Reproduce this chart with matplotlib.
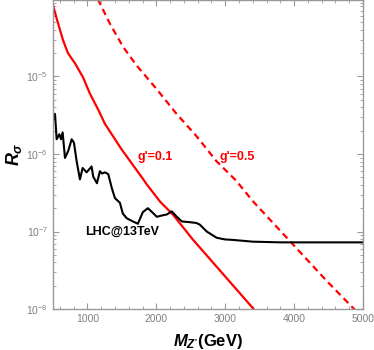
import numpy as np
import matplotlib.pyplot as plt
from matplotlib.ticker import MultipleLocator, LogLocator, NullFormatter

plt.rcParams['font.family'] = ['Liberation Sans', 'DejaVu Sans']
plt.rcParams['mathtext.fontset'] = 'custom'
plt.rcParams['mathtext.rm'] = 'Liberation Sans:bold'
plt.rcParams['mathtext.it'] = 'Liberation Sans:bold:italic'
plt.rcParams['mathtext.bf'] = 'Liberation Sans:bold'

# g' = 0.1 (solid)
m_g01 = [500, 558, 645, 717, 819, 935, 1036, 1152, 1254, 1495, 1804, 1857, 2051, 2239, 2529, 3413, 3500]
r_g01 = [8.3e-5, 5.4e-5, 2.95e-5, 2.0e-5, 1.48e-5, 9.8e-6, 6.0e-6, 3.8e-6, 2.45e-6, 1.15e-6,
         4.8e-7, 4.1e-7, 2.45e-7, 1.66e-7, 7.9e-8, 1.0e-8, 8.1e-9]

# g' = 0.5 (dashed)
m_g05 = [1100, 1157, 1326, 1519, 1713, 2003, 2293, 2583, 2872, 3162, 3403, 3978, 4486, 4906, 5000]
r_g05 = [1.3e-4, 9.7e-5, 4.8e-5, 2.4e-5, 1.39e-5, 6.9e-6, 3.3e-6, 1.7e-6, 8.1e-7, 4.5e-7,
         2.45e-7, 6.9e-8, 2.24e-8, 9.3e-9, 7.6e-9]

# LHC@13TeV limit
m_lhc = [500, 529, 553, 592, 616, 640, 674, 722, 771, 804, 843, 891, 930, 988, 1060, 1084,
         1138, 1181, 1210, 1254, 1302, 1355, 1399, 1471, 1514, 1572, 1659, 1732, 1804, 1877,
         1950, 2007, 2094, 2152, 2225, 2297, 2370, 2486, 2580, 2630, 2732, 2877, 3000, 3109,
         3399, 3800, 5000]
r_lhc = [2.7e-6, 3.3e-6, 1.55e-6, 1.8e-6, 1.55e-6, 1.9e-6, 8.9e-7, 1.1e-6, 1.55e-6, 1.4e-6,
         8.1e-7, 4.7e-7, 6.6e-7, 5.8e-7, 6.9e-7, 5.1e-7, 4.2e-7, 6.0e-7, 5.6e-7, 5.8e-7,
         5.5e-7, 3.6e-7, 2.7e-7, 2.35e-7, 1.7e-7, 1.48e-7, 1.35e-7, 1.26e-7, 1.78e-7, 2.0e-7,
         1.74e-7, 1.55e-7, 1.62e-7, 1.66e-7, 1.82e-7, 1.55e-7, 1.35e-7, 1.32e-7, 1.29e-7,
         1.23e-7, 1.0e-7, 8.3e-8, 7.9e-8, 7.8e-8, 7.4e-8, 7.25e-8, 7.25e-8]

fig = plt.figure(figsize=(3.74, 3.5), dpi=100)
ax = fig.add_axes([0.1417, 0.117, 0.8289, 0.883])

ax.plot(m_g01, r_g01, color='#ff0000', lw=1.6)
ax.plot(m_g05, r_g05, color='#ff0000', lw=1.6, dashes=(3.0, 2.0))
ax.plot(m_lhc, r_lhc, color='black', lw=1.5)

ax.set_yscale('log')
ax.set_xlim(500, 5000)
ax.set_ylim(1e-8, 9.7e-5)

ax.text(1732, 9.1e-7, "g'=0.1", color='#ff0000', fontsize=9, fontweight='bold', ha='left', va='center')
ax.text(2920, 9.1e-7, "g'=0.5", color='#ff0000', fontsize=9, fontweight='bold', ha='left', va='center')
ax.text(964, 1.0e-7, "LHC@13TeV", color='black', fontsize=9, fontweight='bold', ha='left', va='center')

ax.set_xlabel(r"$M_{Z'}$(GeV)", fontsize=12, fontweight='bold', labelpad=6)
ax.set_ylabel(r"$R_{\sigma}$", fontsize=13, labelpad=2)

gray = '#999999'
for s in ax.spines.values():
    s.set_color(gray)
    s.set_linewidth(1.0)

ax.xaxis.set_major_locator(MultipleLocator(1000))
ax.xaxis.set_minor_locator(MultipleLocator(200))
ax.yaxis.set_major_locator(LogLocator(base=10))
ax.yaxis.set_minor_locator(LogLocator(base=10, subs=np.arange(2, 10)))
ax.yaxis.set_minor_formatter(NullFormatter())
ax.tick_params(which='both', direction='in', top=True, right=True, colors=gray,
               labelcolor='#808080', labelsize=7.5)
ax.tick_params(which='major', length=4, width=0.8)
ax.tick_params(which='minor', length=2, width=0.6)

fig.savefig('out.png', dpi=100)
